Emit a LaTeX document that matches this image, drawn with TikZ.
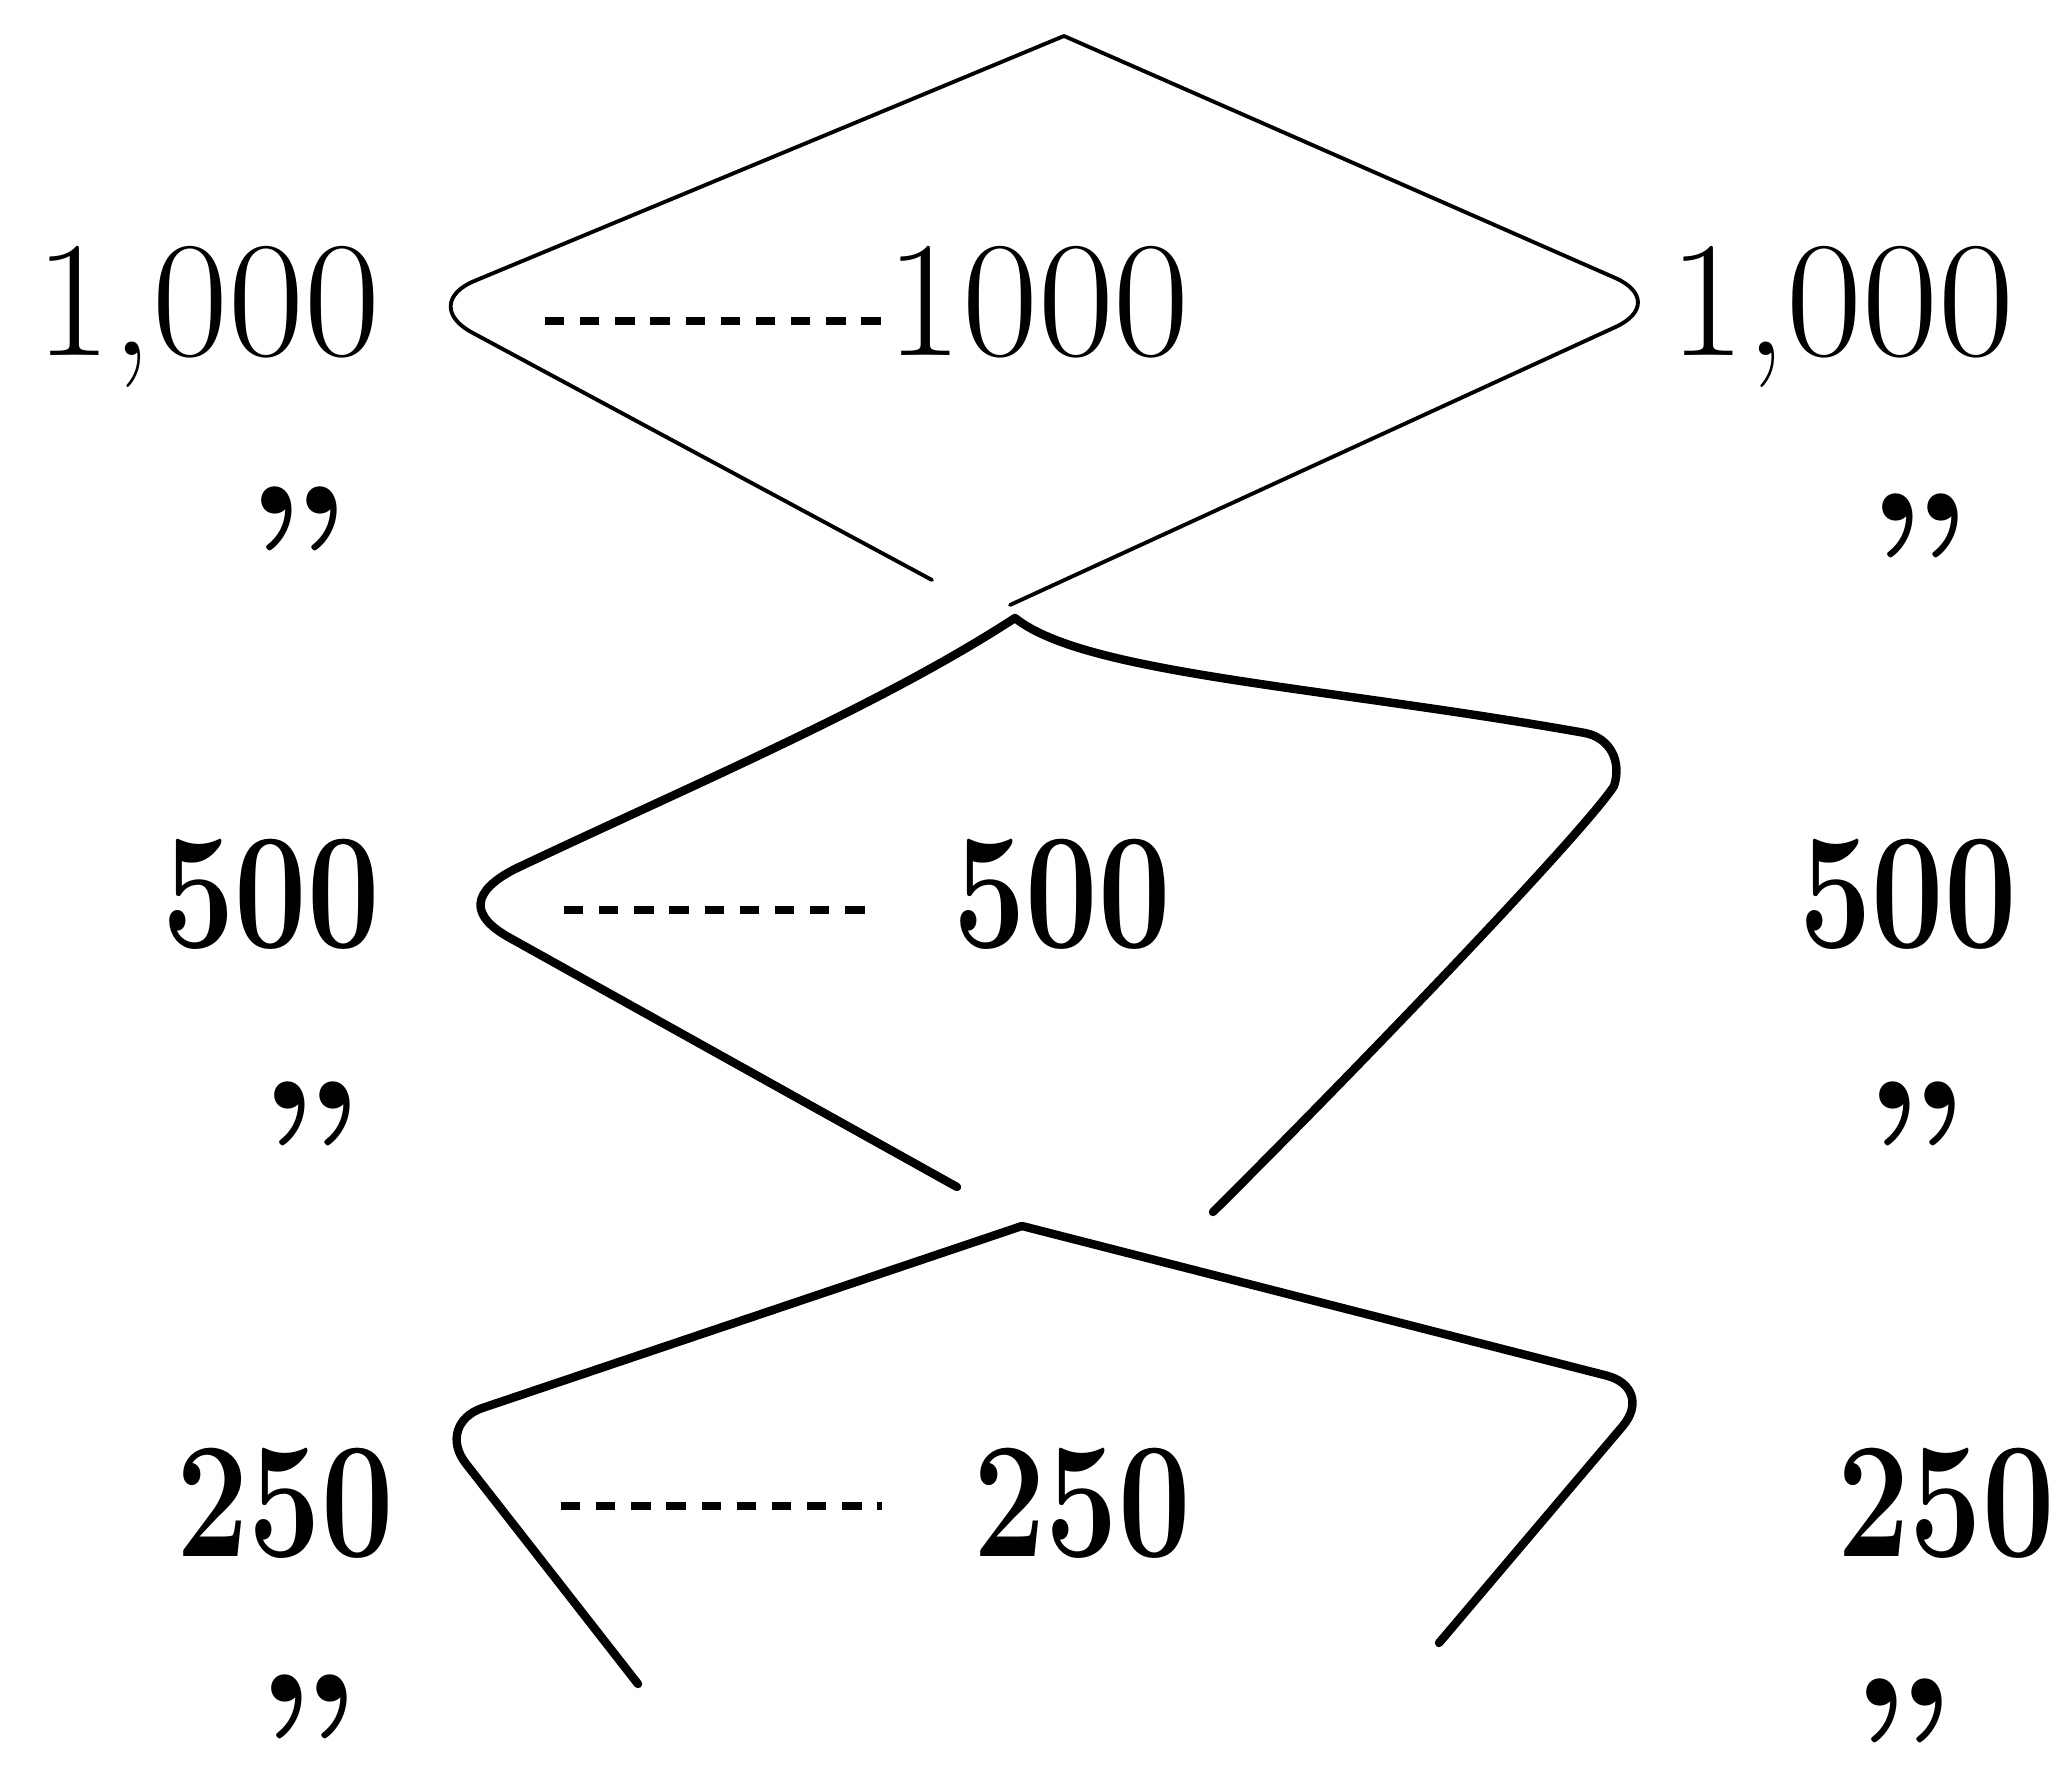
\documentclass[tikz,border=0pt]{standalone}
\usepackage{tikz}
\usepackage{graphicx}
\usetikzlibrary{calc}

\newcommand{\boldnum}[1]{\scalebox{0.78}[1]{\bfseries #1}}
\newcommand{\dittomark}{{\fontsize{54}{54}\selectfont\bfseries\raisebox{-0.39em}[0.30em][0pt]{”}}}

\begin{document}
\begin{tikzpicture}[
  font=\fontsize{47}{52}\selectfont,
  num/.style={inner sep=0pt, anchor=base},
  ditto/.style={inner sep=0pt, anchor=center},
  leader/.style={line width=2.5pt, dash pattern=on 5.5pt off 4.5pt},
  thinline/.style={line width=1.1pt, line join=round, line cap=round},
  thickline/.style={line width=2.4pt, line join=round, line cap=round}
]
\useasboundingbox (0,0) rectangle (20.63,17.66);

% top row
\node[num] (l1) at (2.08,14.10) {1,000};
\node[num] (c1) at (10.38,14.10) {1000};
\node[num] (r1) at (18.42,14.10) {1,000};
\node[ditto] (dl1) at (2.98,12.50) {\dittomark};
\node[ditto] (dr1) at (19.19,12.43) {\dittomark};

% middle row
\node[num] (l2) at (2.71,8.18) {\boldnum{500}};
\node[num] (c2) at (10.62,8.18) {\boldnum{500}};
\node[num] (r2) at (19.08,8.18) {\boldnum{500}};
\node[ditto] (dl2) at (3.11,6.55) {\dittomark};
\node[ditto] (dr2) at (19.16,6.55) {\dittomark};

% bottom row
\node[num] (l3) at (2.85,2.09) {\boldnum{250}};
\node[num] (c3) at (10.82,2.09) {\boldnum{250}};
\node[num] (r3) at (19.46,2.09) {\boldnum{250}};
\node[ditto] (dl3) at (3.08,0.62) {\dittomark};
\node[ditto] (dr3) at (19.03,0.58) {\dittomark};

% dotted leaders
\coordinate (d1) at (5.45,14.45);
\coordinate (d2) at (5.64,8.56);
\coordinate (d3) at (5.61,2.60);
\draw[leader, shorten >=0.5mm] (d1) -- (d1 -| c1.west);
\draw[leader, shorten >=8mm] (d2) -- (d2 -| c2.west);
\draw[leader, shorten >=9mm] (d3) -- (d3 -| c3.west);

% the three outlines
\draw[thinline, rounded corners=6mm] (9.32,11.86) -- (4.19,14.62) -- (10.64,17.30)
  (10.64,17.30) -- (16.70,14.64) -- (10.10,11.61);
\draw[thickline] (9.57,5.79) -- (5.10,8.28) .. controls (4.68,8.51) and (4.72,8.75) .. (5.15,8.97)
  .. controls (6.9,9.8) and (8.8,10.6) .. (10.15,11.48)
  (10.15,11.48) .. controls (10.85,10.92) and (13.2,10.8) .. (15.85,10.33)
  .. controls (16.10,10.28) and (16.22,10.05) .. (16.14,9.80)
  .. controls (15.85,9.35) and (13.6,7.0) .. (12.13,5.54);
\draw[thickline, rounded corners=5mm] (6.38,0.82) -- (4.35,3.42) -- (10.22,5.40)
  (10.22,5.40) -- (16.55,3.78) -- (14.39,1.23);
\end{tikzpicture}
\end{document}
